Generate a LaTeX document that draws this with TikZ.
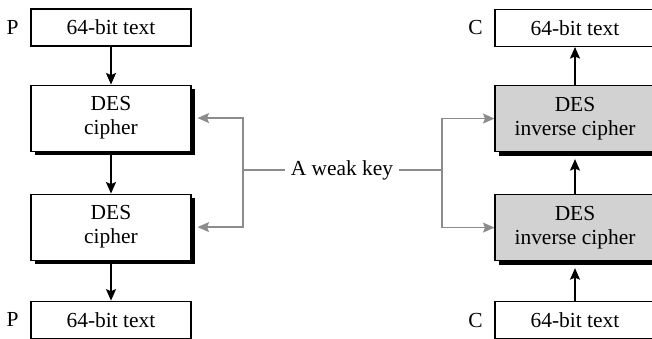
\documentclass[tikz,border=0pt]{standalone}
\usepackage{fontspec}
\setmainfont{Liberation Serif}
\newfontfamily\diagfont{Liberation Serif}
\usetikzlibrary{arrows.meta, positioning, calc, shadows}
\usepackage{xcolor}
\definecolor{KeyGray}{HTML}{8C8C8C}
\definecolor{InvGray}{HTML}{D2D2D2}

\begin{document}
\begin{tikzpicture}[
    txtbox/.style={
        draw, line width=0.6pt, fill=white, minimum width=3.2cm, minimum height=0.74cm,
        align=center
    },
    cipher/.style={
        draw, line width=0.6pt, fill=white, minimum width=3.2cm, minimum height=1.32cm,
        align=center,
        drop shadow={shadow xshift=0.07cm, shadow yshift=-0.08cm, fill=black, opacity=1}
    },
    invcipher/.style={cipher, fill=InvGray},
    arr/.style={-{Stealth[length=2.3mm, width=2mm, inset=0.4mm]}, line width=0.8pt},
    keyarr/.style={-{Stealth[length=2.3mm, width=2mm, inset=0.4mm]}, line width=0.7pt, KeyGray},
    keyline/.style={line width=0.7pt, KeyGray},
    lbl/.style={inner sep=2pt},
    every node/.style={font=\diagfont\fontsize{12.2}{13.7}\selectfont}
]
\useasboundingbox (0,0) rectangle (13.04,-6.78);

% =============================================
% LEFT: P -> DES cipher -> DES cipher -> P
% =============================================
\node[txtbox] (ptop) at (2.22,-0.55) {64-bit text};
\node[cipher, below=0.76cm of ptop] (enc1) {DES\\cipher};
\node[cipher, below=0.84cm of enc1] (enc2) {DES\\cipher};
\node[txtbox, below=0.8cm of enc2] (pbot) {64-bit text};

\node[lbl, left=0.16cm of ptop] (ptoplbl) {P};
\node[lbl, left=0.16cm of pbot] (pbotlbl) {P};

\draw[arr] (ptop.south) -- (enc1.north);
\draw[arr] (enc1.south) -- (enc2.north);
\draw[arr] (enc2.south) -- (pbot.north);

% =============================================
% RIGHT: C -> DES inverse cipher (twice) -> C
% =============================================
\node[txtbox] (ctop) at (11.5,-0.56) {64-bit text};
\node[invcipher, below=0.76cm of ctop] (dec1) {DES\\inverse cipher};
\node[invcipher, below=0.84cm of dec1] (dec2) {DES\\inverse cipher};
\node[txtbox, below=0.8cm of dec2] (cbot) {64-bit text};

\node[lbl, left=0.16cm of ctop] (ctoplbl) {C};
\node[lbl, left=0.16cm of cbot] (cbotlbl) {C};

\draw[arr, shorten >=0.14cm] (cbot.north) -- (dec2.south);
\draw[arr, shorten >=0.14cm] (dec2.north) -- (dec1.south);
\draw[arr] (dec1.north) -- (ctop.south);

% =============================================
% CENTER: the weak key feeds all four stages
% =============================================
\node (key) at (6.84,-3.4) {A weak key};
\coordinate (jl) at (4.86,-3.4);
\coordinate (jr) at (8.84,-3.4);

\draw[keyline] (key.west) -- (jl);
\draw[keyarr, shorten >=0.12cm] (jl) |- (enc1.east);
\draw[keyarr, shorten >=0.12cm] (jl) |- (enc2.east);

\draw[keyline] (key.east) -- (jr);
\draw[keyarr] (jr) |- (dec1.west);
\draw[keyarr] (jr) |- (dec2.west);

\end{tikzpicture}
\end{document}
